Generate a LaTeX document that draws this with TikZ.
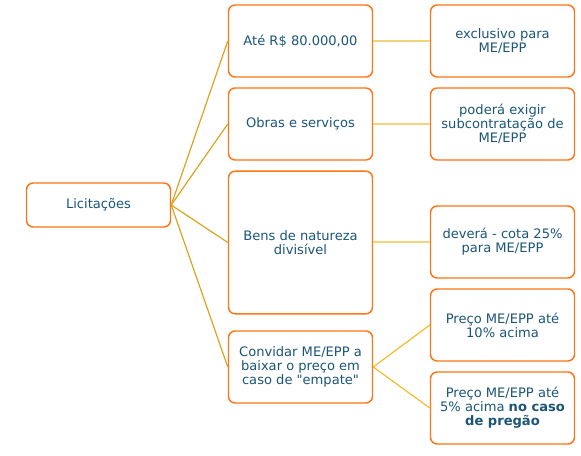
\documentclass[tikz,border=0pt]{standalone}
\usepackage{fontspec}
\newfontfamily\boxfont{DejaVu Sans}
\usepackage{tikz}
\usepackage{xcolor}

\definecolor{boxorange}{HTML}{FF7417}
\definecolor{txtblue}{HTML}{1B5678}
\definecolor{linkgold}{HTML}{D9A521}
\definecolor{linklight}{HTML}{F3D37C}
\definecolor{linkyel}{HTML}{F2BC2E}

\tikzset{
	box/.style={draw=boxorange, line width=1.1pt, rounded corners=5pt, fill=white, text=txtblue, align=center, minimum width=108pt, minimum height=54pt, inner sep=1pt, font=\boxfont\fontsize{9.8}{10.6}\selectfont},
	leftlink/.style={draw=linkgold, line width=0.9pt},
	rightlink/.style={draw=linklight, line width=1.9pt},
	splitlink/.style={draw=linkyel, line width=0.9pt}
}

\begin{document}
\begin{tikzpicture}[x=0.75pt, y=-0.75pt]
			\useasboundingbox (0,0) rectangle (581,456);
			\node[box, minimum height=33pt] (lic) at (98.5,205) {Licitações};
			
			\node[box] (ate) at (300.5,41) {Até R\$ 80.000,00};
			\node[box] (obras) at (300.5,124) {Obras e serviços};
			\node[box, minimum height=107pt] (bens) at (300.5,242.5) {Bens de natureza\\ divisível};
			\node[box] (convidar) at (300.5,367) {Convidar ME/EPP a\\ baixar o preço em\\ caso de "empate"};
			
			\node[box] (excl) at (502.5,41) {exclusivo para\\ ME/EPP};
			\node[box] (subc) at (502.5,124) {poderá exigir\\ subcontratação de\\ ME/EPP};
			\node[box] (cota) at (502.5,242) {deverá - cota 25\%\\ para ME/EPP};
			\node[box] (dez) at (502.5,325) {Preço ME/EPP até\\ 10\% acima};
			\node[box] (cinco) at (502.5,408) {Preço ME/EPP até\\ 5\% acima \textbf{no caso}\\ \textbf{de pregão}};
			
			% ligações
			\foreach \b in {ate, obras, bens, convidar}
				\draw[leftlink] (lic.east) -- (\b.west);
			\draw[rightlink] (ate.east) -- (excl.west);
			\draw[rightlink] (obras.east) -- (subc.west);
			\draw[rightlink] (bens.east |- cota.west) -- (cota.west);
			\draw[splitlink] (convidar.east) -- (dez.west);
			\draw[splitlink] (convidar.east) -- (cinco.west);
			
		\end{tikzpicture}
\end{document}
